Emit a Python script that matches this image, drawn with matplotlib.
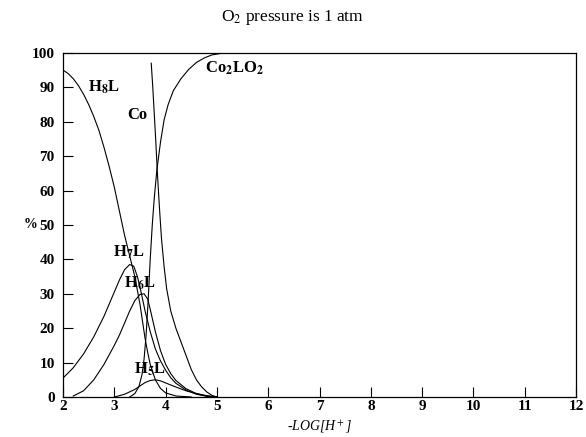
import matplotlib
matplotlib.use('Agg')
import matplotlib.pyplot as plt

# species distribution curves (x = -log[H+], y = %)
h8l_x = [2.0, 2.1, 2.2, 2.3, 2.4, 2.5, 2.6, 2.7, 2.8, 2.9, 3.0, 3.1, 3.2, 3.3, 3.4,
         3.5, 3.55, 3.6, 3.65, 3.7, 3.8, 3.9, 4.0, 4.2, 4.5]
h8l_y = [95, 94, 92.5, 90.5, 88, 85, 81.5, 77.5, 72.5, 67, 61, 54, 47, 41, 35,
         27, 22, 17, 13, 9.5, 5, 2.5, 1.2, 0.3, 0]

h7l_x = [2.0, 2.2, 2.4, 2.6, 2.8, 2.9, 3.0, 3.1, 3.2, 3.3, 3.38, 3.45, 3.5, 3.6,
         3.7, 3.8, 3.9, 4.0, 4.1, 4.2, 4.4, 4.6, 4.8, 5.0]
h7l_y = [5.5, 8.5, 12.5, 17.5, 23.5, 27, 30.5, 34, 37, 38.5, 38, 35, 32, 25,
         19, 14, 10.5, 7.8, 5.6, 4, 2, 0.8, 0.2, 0]

h6l_x = [2.2, 2.4, 2.6, 2.8, 3.0, 3.1, 3.2, 3.3, 3.4, 3.5, 3.58, 3.65, 3.7, 3.8,
         3.9, 4.0, 4.1, 4.2, 4.4, 4.6, 4.8, 5.0]
h6l_y = [0.3, 1.8, 5, 9.5, 15, 18, 21.5, 25, 28, 29.8, 30, 28.5, 25.5, 19,
         13.5, 9.5, 6.8, 4.8, 2.4, 1, 0.3, 0]

h5l_x = [3.0, 3.2, 3.4, 3.5, 3.6, 3.7, 3.8, 3.9, 4.0, 4.2, 4.4, 4.6, 4.8, 5.0]
h5l_y = [0, 0.8, 2.2, 3.2, 4.2, 4.8, 5, 4.7, 4.1, 2.9, 1.8, 1, 0.4, 0]

co_x = [3.72, 3.75, 3.78, 3.81, 3.84, 3.88, 3.92, 3.97, 4.02, 4.1, 4.2, 4.3, 4.4,
        4.5, 4.6, 4.7, 4.8, 4.9, 5.0]
co_y = [97, 90, 82, 74, 65, 55, 46, 38, 31.5, 25, 20, 16, 12,
        8, 5, 3, 1.5, 0.5, 0]

co2lo2_x = [3.3, 3.4, 3.48, 3.54, 3.58, 3.62, 3.66, 3.7, 3.74, 3.78, 3.83, 3.9,
            3.97, 4.05, 4.15, 4.3, 4.45, 4.6, 4.75, 4.9, 5.1, 12]
co2lo2_y = [0, 1, 3, 6.5, 11, 18, 28, 40, 50, 58, 66, 74,
            80.5, 85, 89, 92.5, 95.2, 97.2, 98.5, 99.4, 99.9, 100]

xticks = list(range(2, 13))
yticks = list(range(0, 101, 10))

plt.rcParams['font.family'] = 'Liberation Serif'
plt.rcParams['mathtext.fontset'] = 'stix'

fig = plt.figure(figsize=(5.86, 4.37), dpi=100)
ax = fig.add_axes([0.1075, 0.0915, 0.8755, 0.7875])

for xs, ys in [(h8l_x, h8l_y), (h7l_x, h7l_y), (h6l_x, h6l_y),
               (h5l_x, h5l_y), (co_x, co_y), (co2lo2_x, co2lo2_y)]:
    ax.plot(xs, ys, color='black', lw=0.8)

ax.set_xlim(2, 12)
ax.set_ylim(0, 100)
ax.set_xticks(xticks)
ax.set_yticks(yticks)
ax.tick_params(direction='in', length=7, width=0.8, labelsize=11)
ax.tick_params(axis='x', pad=2)
ax.tick_params(axis='y', pad=6)
for lab in ax.get_xticklabels() + ax.get_yticklabels():
    lab.set_fontweight('bold')
for s in ax.spines.values():
    s.set_linewidth(0.9)

lbl = dict(fontsize=12, fontweight='bold', va='center', ha='left')
ax.text(2.48, 90, 'H$_\\mathbf{8}$L', **lbl)
ax.text(3.25, 82, 'Co', **lbl)
ax.text(4.76, 95.6, 'Co$_\\mathbf{2}$LO$_\\mathbf{2}$', **lbl)
ax.text(2.98, 42, 'H$_\\mathbf{7}$L', **lbl)
ax.text(3.18, 33, 'H$_\\mathbf{6}$L', **lbl)
ax.text(3.38, 8, 'H$_\\mathbf{5}$L', **lbl)

fig.suptitle('O$_2$ pressure is 1 atm', fontsize=12.5, x=0.5, y=0.959, va='center')
ax.set_xlabel('-LOG[H$^+$]', fontsize=10, style='italic', labelpad=4)
ax.set_ylabel('%', fontsize=10, fontweight='bold', rotation=0, va='center', ha='center')
ax.yaxis.set_label_coords(-0.063, 0.5)

fig.savefig('out.png', dpi=100)
